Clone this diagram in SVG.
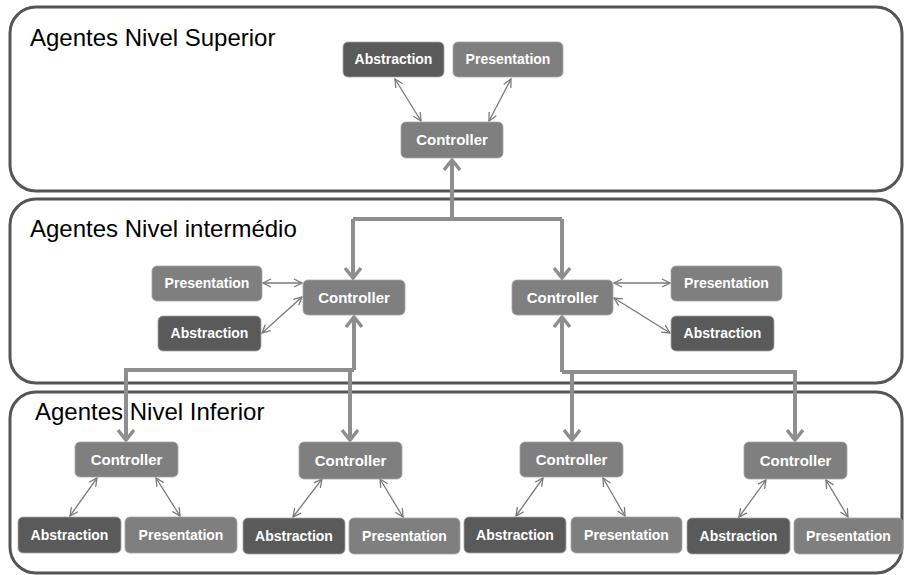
<svg xmlns="http://www.w3.org/2000/svg" width="905" height="575" viewBox="0 0 905 575">
  <style>
    .panel { fill: #ffffff; stroke: #555555; stroke-width: 3; }
    .title { font-family: "Liberation Sans", Arial, sans-serif; font-size: 24px; fill: #000000; }
    .dark { fill: #5a5a5a; }
    .light { fill: #7f7f7f; }
    .box { stroke: #a6a6a6; stroke-width: 0.8; }
    .lbl { font-family: "Liberation Sans", Arial, sans-serif; font-weight: bold; font-size: 14px; fill: #ffffff; text-anchor: middle; }
    .ctl { font-size: 15px; }
    .thick { fill: none; stroke: #8e8e8e; stroke-width: 4; }
    .thin { fill: none; stroke: #7a7a7a; stroke-width: 1.3; marker-start: url(#small); marker-end: url(#small); }
  </style>
  <defs>
    <marker id="big" viewBox="0 0 14 18" refX="12" refY="9" markerUnits="userSpaceOnUse" markerWidth="14" markerHeight="18" orient="auto">
      <path d="M2,1 L12,9 L2,17" fill="none" stroke="#8e8e8e" stroke-width="3.5"/>
    </marker>
    <marker id="small" viewBox="0 0 10 10" refX="9" refY="5" markerUnits="userSpaceOnUse" markerWidth="10" markerHeight="10" orient="auto-start-reverse">
      <path d="M1,1 L9,5 L1,9" fill="none" stroke="#7a7a7a" stroke-width="1.3"/>
    </marker>
  </defs>

  <rect width="905" height="575" fill="#ffffff"/>

  <!-- level panels -->
  <g id="panel-superior">
    <rect class="panel" x="10" y="7" width="892" height="184" rx="26"/>
    <text class="title" x="30" y="46">Agentes Nivel Superior</text>
  </g>
  <g id="panel-intermedio">
    <rect class="panel" x="10" y="199" width="892" height="184" rx="26"/>
    <text class="title" x="30" y="237">Agentes Nivel intermédio</text>
  </g>
  <g id="panel-inferior">
    <rect class="panel" x="10" y="392" width="892" height="181" rx="26"/>
    <text class="title" x="35" y="420">Agentes Nivel Inferior</text>
  </g>

  <!-- connectors -->
  <g id="connectors">
    <!-- top controller to intermediate controllers -->
    <path class="thick" d="M452,219 V160" marker-end="url(#big)"/>
    <path class="thick" d="M353,219 H562"/>
    <path class="thick" d="M353,219 V278" marker-end="url(#big)"/>
    <path class="thick" d="M562,219 V278" marker-end="url(#big)"/>
    <!-- left intermediate controller to lower controllers -->
    <path class="thick" d="M354,370 V317" marker-end="url(#big)"/>
    <path class="thick" d="M126,370 H354"/>
    <path class="thick" d="M126,368 V440" marker-end="url(#big)"/>
    <path class="thick" d="M350,370 V440" marker-end="url(#big)"/>
    <!-- right intermediate controller to lower controllers -->
    <path class="thick" d="M562,372 V317" marker-end="url(#big)"/>
    <path class="thick" d="M562,372 H795"/>
    <path class="thick" d="M572,372 V440" marker-end="url(#big)"/>
    <path class="thick" d="M795,370 V440" marker-end="url(#big)"/>

    <!-- top agent internals -->
    <line class="thin" x1="395" y1="79" x2="421" y2="121"/>
    <line class="thin" x1="511" y1="79" x2="489" y2="121"/>
    <!-- intermediate left -->
    <line class="thin" x1="263" y1="283" x2="302" y2="283"/>
    <line class="thin" x1="262" y1="333" x2="302" y2="297"/>
    <!-- intermediate right -->
    <line class="thin" x1="614" y1="283" x2="670" y2="283"/>
    <line class="thin" x1="614" y1="298" x2="670" y2="333"/>
    <!-- lower agents -->
    <line class="thin" x1="97" y1="478" x2="70" y2="516"/>
    <line class="thin" x1="156" y1="478" x2="180" y2="516"/>
    <line class="thin" x1="322" y1="479" x2="293" y2="517"/>
    <line class="thin" x1="380" y1="479" x2="403" y2="517"/>
    <line class="thin" x1="543" y1="478" x2="516" y2="516"/>
    <line class="thin" x1="603" y1="478" x2="625" y2="516"/>
    <line class="thin" x1="766" y1="480" x2="739" y2="517"/>
    <line class="thin" x1="826" y1="480" x2="848" y2="517"/>
  </g>

  <!-- top agent -->
  <g id="top-abstraction">
    <rect class="dark box" x="343" y="42" width="101" height="35" rx="5"/>
    <text class="lbl" x="393.5" y="64">Abstraction</text>
  </g>
  <g id="top-presentation">
    <rect class="light box" x="453" y="42" width="110" height="35" rx="5"/>
    <text class="lbl" x="508" y="64">Presentation</text>
  </g>
  <g id="top-controller">
    <rect class="light box" x="401" y="122" width="102" height="36" rx="5"/>
    <text class="lbl ctl" x="452" y="145">Controller</text>
  </g>

  <!-- intermediate left agent -->
  <g id="mid-left-presentation">
    <rect class="light box" x="152" y="266" width="110" height="35" rx="5"/>
    <text class="lbl" x="207" y="288">Presentation</text>
  </g>
  <g id="mid-left-abstraction">
    <rect class="dark box" x="158" y="316" width="103" height="35" rx="5"/>
    <text class="lbl" x="209.5" y="338">Abstraction</text>
  </g>
  <g id="mid-left-controller">
    <rect class="light box" x="303" y="280" width="102" height="35" rx="5"/>
    <text class="lbl ctl" x="354" y="303">Controller</text>
  </g>

  <!-- intermediate right agent -->
  <g id="mid-right-controller">
    <rect class="light box" x="512" y="280" width="101" height="35" rx="5"/>
    <text class="lbl ctl" x="562.5" y="303">Controller</text>
  </g>
  <g id="mid-right-presentation">
    <rect class="light box" x="671" y="266" width="111" height="35" rx="5"/>
    <text class="lbl" x="726.5" y="288">Presentation</text>
  </g>
  <g id="mid-right-abstraction">
    <rect class="dark box" x="671" y="316" width="103" height="35" rx="5"/>
    <text class="lbl" x="722.5" y="338">Abstraction</text>
  </g>

  <!-- lower agent 1 -->
  <g id="low1-controller">
    <rect class="light box" x="75" y="442" width="103" height="35" rx="5"/>
    <text class="lbl ctl" x="126.5" y="465">Controller</text>
  </g>
  <g id="low1-abstraction">
    <rect class="dark box" x="18" y="517" width="103" height="36" rx="5"/>
    <text class="lbl" x="69.5" y="540">Abstraction</text>
  </g>
  <g id="low1-presentation">
    <rect class="light box" x="125" y="517" width="112" height="36" rx="5"/>
    <text class="lbl" x="181" y="540">Presentation</text>
  </g>

  <!-- lower agent 2 -->
  <g id="low2-controller">
    <rect class="light box" x="299" y="442" width="103" height="37" rx="5"/>
    <text class="lbl ctl" x="350.5" y="466">Controller</text>
  </g>
  <g id="low2-abstraction">
    <rect class="dark box" x="243" y="518" width="102" height="36" rx="5"/>
    <text class="lbl" x="294" y="541">Abstraction</text>
  </g>
  <g id="low2-presentation">
    <rect class="light box" x="349" y="518" width="111" height="36" rx="5"/>
    <text class="lbl" x="404.5" y="541">Presentation</text>
  </g>

  <!-- lower agent 3 -->
  <g id="low3-controller">
    <rect class="light box" x="520" y="442" width="103" height="35" rx="5"/>
    <text class="lbl ctl" x="571.5" y="465">Controller</text>
  </g>
  <g id="low3-abstraction">
    <rect class="dark box" x="464" y="517" width="102" height="36" rx="5"/>
    <text class="lbl" x="515" y="540">Abstraction</text>
  </g>
  <g id="low3-presentation">
    <rect class="light box" x="571" y="517" width="111" height="36" rx="5"/>
    <text class="lbl" x="626.5" y="540">Presentation</text>
  </g>

  <!-- lower agent 4 -->
  <g id="low4-controller">
    <rect class="light box" x="744" y="442" width="103" height="37" rx="5"/>
    <text class="lbl ctl" x="795.5" y="466">Controller</text>
  </g>
  <g id="low4-abstraction">
    <rect class="dark box" x="687" y="518" width="103" height="36" rx="5"/>
    <text class="lbl" x="738.5" y="541">Abstraction</text>
  </g>
  <g id="low4-presentation">
    <rect class="light box" x="794" y="518" width="109" height="36" rx="5"/>
    <text class="lbl" x="848.5" y="541">Presentation</text>
  </g>
</svg>
